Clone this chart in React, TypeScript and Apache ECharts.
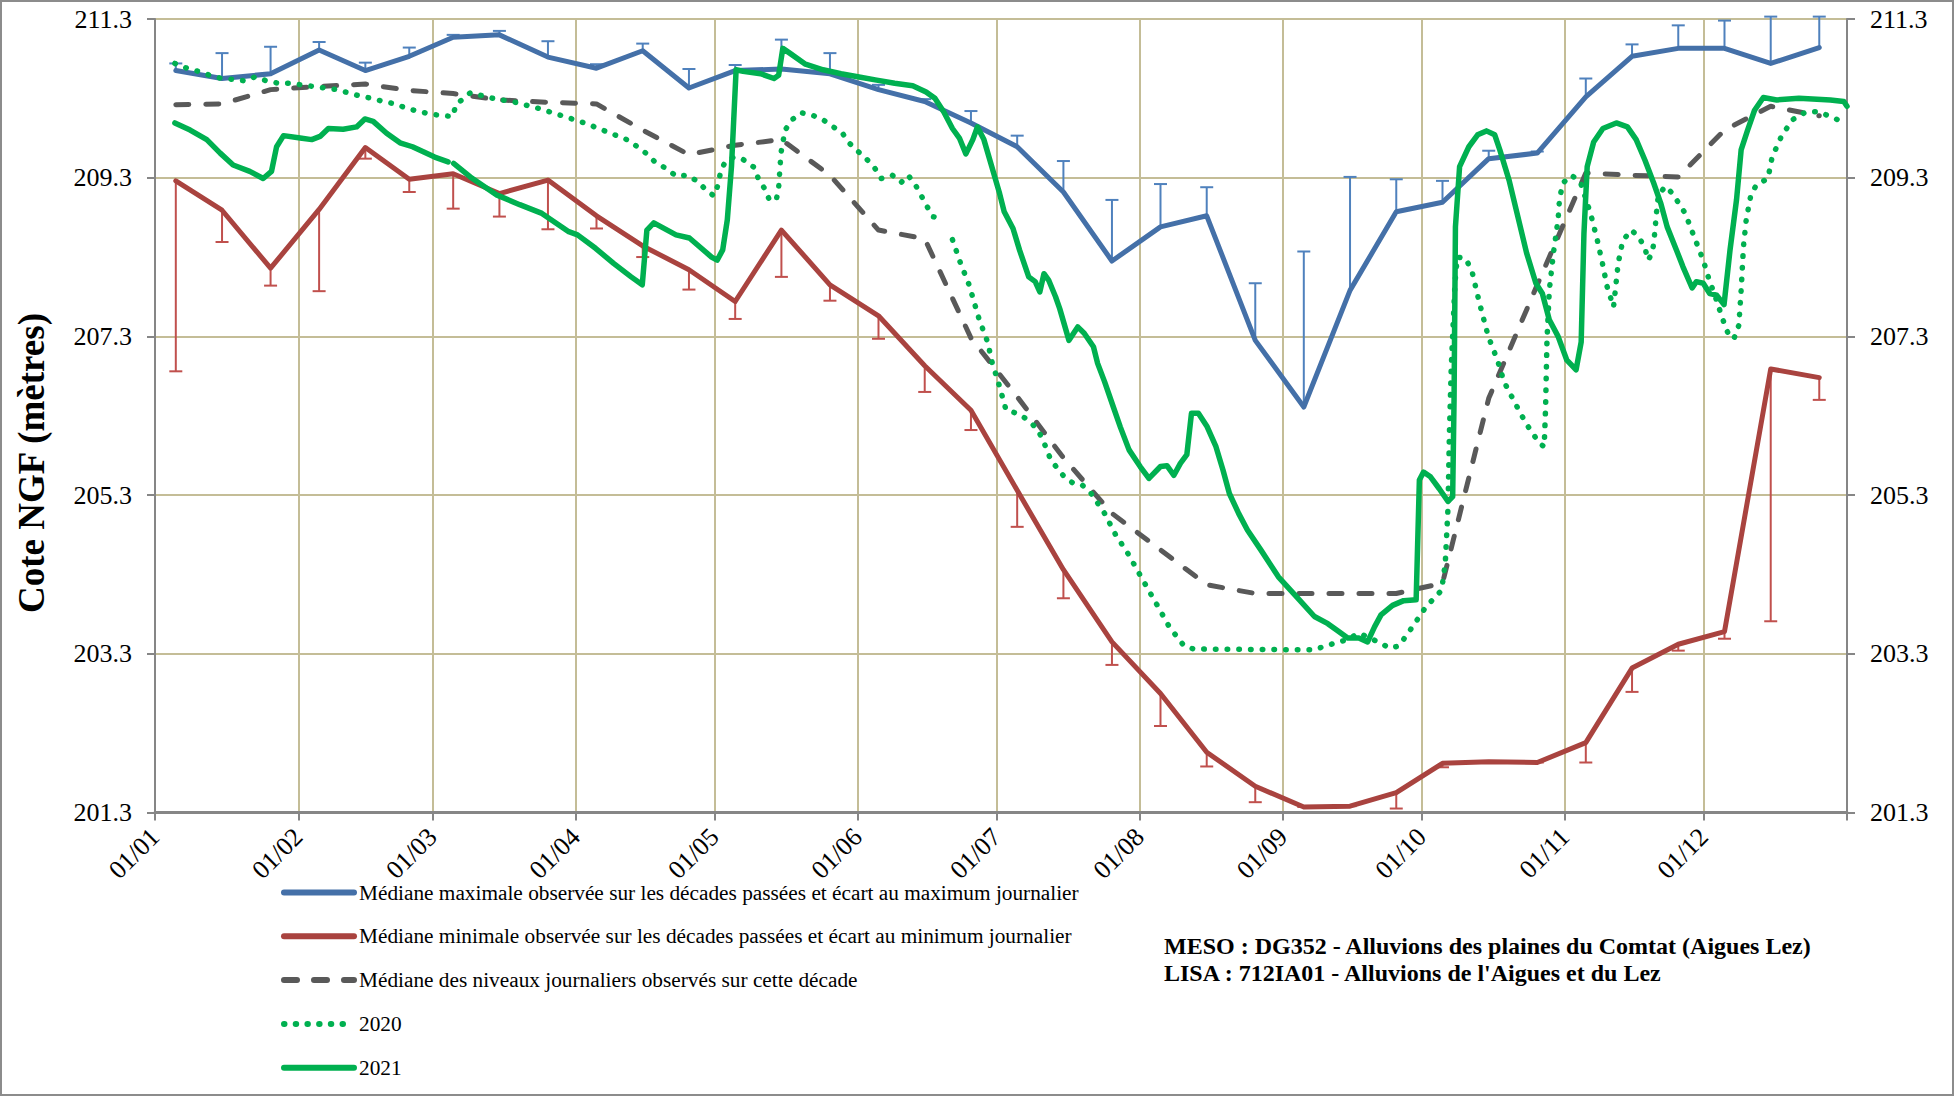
import React, { useEffect, useRef } from "react";
import * as echarts from "echarts";

// ---- calendar (leap year) ----
const MONTH_LENGTHS = [31, 29, 31, 30, 31, 30, 31, 31, 30, 31, 30, 31];
const MONTH_LABELS = ["01/01", "01/02", "01/03", "01/04", "01/05", "01/06", "01/07", "01/08", "01/09", "01/10", "01/11", "01/12"];
const Y_TICKS = [201.3, 203.3, 205.3, 207.3, 209.3, 211.3];

// ---- decade series (36 decades) ----
const MAX_MEDIAN = [210.65, 210.55, 210.61, 210.91, 210.65, 210.83, 211.07, 211.1, 210.82, 210.68, 210.9, 210.43,
  210.65, 210.67, 210.61, 210.41, 210.26, 209.99, 209.69, 209.12, 208.25, 208.68, 208.82, 207.25,
  206.41, 207.88, 208.87, 208.99, 209.54, 209.61, 210.32, 210.83, 210.93, 210.93, 210.74, 210.94];
const MAX_DAILY = [210.74, 210.87, 210.95, 211.01, 210.75, 210.94, 211.1, 211.15, 211.02, 210.73, 210.99, 210.67,
  210.72, 211.04, 210.87, 210.47, 210.29, 210.14, 209.83, 209.51, 209.02, 209.22, 209.18, 207.97,
  208.37, 209.31, 209.28, 209.26, 209.64, 209.63, 210.55, 210.98, 211.22, 211.28, 211.33, 211.33];
const MIN_MEDIAN = [209.26, 208.89, 208.16, 208.9, 209.68, 209.28, 209.35, 209.1, 209.27, 208.82, 208.44, 208.14,
  207.74, 208.64, 207.95, 207.56, 206.93, 206.37, 205.36, 204.36, 203.45, 202.8, 202.06, 201.63,
  201.37, 201.38, 201.55, 201.92, 201.94, 201.93, 202.18, 203.12, 203.42, 203.58, 206.89, 206.78];
const MIN_DAILY = [206.86, 208.49, 207.94, 207.87, 209.54, 209.12, 208.91, 208.81, 208.65, 208.66, 208.3, 207.89,
  207.52, 208.05, 207.75, 207.27, 206.6, 206.12, 204.9, 204.0, 203.16, 202.39, 201.88, 201.43,
  201.37, 201.38, 201.35, 201.87, 201.94, 201.93, 201.93, 202.82, 203.34, 203.49, 203.71, 206.5];
const DECADE_MEDIAN = [210.22, 210.23, 210.41, 210.45, 210.48, 210.4, 210.36, 210.28, 210.25, 210.23, 209.9, 209.59,
  209.71, 209.78, 209.33, 208.64, 208.53, 207.28, 206.54, 205.77, 205.07, 204.61, 204.17, 204.06,
  204.06, 204.06, 204.06, 204.19, 206.52, 207.95, 209.36, 209.33, 209.31, 209.9, 210.2, 210.08];

// ---- daily levels: [day of year, level] ----
const LEVELS_2020 = [
  [4.3, 210.74], [6.9, 210.68], [9.4, 210.64], [11.9, 210.59], [14.4, 210.55], [16.9, 210.54], [19.5, 210.52],
  [21.6, 210.57], [24.2, 210.52], [26.7, 210.49], [29.2, 210.49], [31.7, 210.47], [34.2, 210.45], [36.8, 210.43],
  [39.3, 210.41], [41.8, 210.37], [44.3, 210.33], [46.9, 210.3], [49.4, 210.26], [51.9, 210.23], [54.7, 210.17],
  [59.6, 210.1], [64.4, 210.07], [65.1, 210.22], [68.2, 210.37], [73.1, 210.3], [77.9, 210.25], [83.2, 210.17],
  [88.1, 210.08], [92.9, 209.99], [97.7, 209.88], [102.5, 209.77], [106.4, 209.6], [108.3, 209.49], [110.8, 209.41],
  [112.7, 209.32], [115.1, 209.33], [117.5, 209.25], [119.1, 209.15], [120.9, 209.07], [121.8, 209.21], [122.3, 209.36],
  [123.3, 209.5], [125.2, 209.56], [127.2, 209.53], [129.6, 209.43], [130.5, 209.29], [132, 209.15], [132.9, 209.02],
  [134.4, 209.02], [134.9, 209.17], [135.4, 209.61], [136.3, 209.9], [137.8, 210.03], [139.7, 210.12], [142.1, 210.09],
  [144.5, 210.03], [146.5, 209.95], [148.7, 209.86], [150.3, 209.73], [152.1, 209.63], [154, 209.53], [155.7, 209.42],
  [157.1, 209.29], [159.5, 209.33], [161.4, 209.24], [162.9, 209.33], [164.3, 209.23], [165.6, 209.09], [166.8, 208.96],
  [168.2, 208.81], [168.9, 208.8], [170.7, null], [172.5, 208.52], [174.2, 208.23], [176.1, 207.95], [178.3, 207.51],
  [180.1, 207.23], [181.2, 206.94], [182.2, 206.77], [184.1, 206.37], [186.5, 206.33], [188.8, 206.25], [190.7, 206.14],
  [191.9, 206.02], [193.8, 205.74], [196.7, 205.53], [198.6, 205.45], [200.5, 205.43], [202.5, 205.32], [205.4, 205.07],
  [207.8, 204.8], [210.4, 204.57], [213.1, 204.29], [217, 203.89], [219.4, 203.64], [222.6, 203.4], [224.7, 203.36],
  [250.8, 203.35], [253.2, 203.4], [258, 203.48], [260.4, 203.56], [262.8, 203.5], [267.2, 203.37], [269.1, 203.4],
  [272, 203.64], [274.9, 203.89], [278.3, 204.1], [279.1, 204.44], [279.7, 205.15], [280, 206.08], [280.4, 206.92],
  [281.2, 207.97], [281.7, 208.3], [283.6, 208.28], [285, 208.09], [286.5, 207.72], [288.4, 207.3], [290.4, 207.0],
  [291.8, 206.73], [294.2, 206.46], [296.6, 206.2], [299.5, 205.95], [300.5, 205.91], [300.8, 206.4], [301.1, 207.25],
  [301.6, 207.88], [302.5, 208.35], [303.5, 208.77], [303.8, 209.02], [304.5, 209.23], [306.4, 209.33], [308.3, 209.25],
  [309.8, 208.98], [310.7, 208.81], [312, 208.51], [313.1, 208.22], [314.1, 207.93], [315.5, 207.67], [316.5, 208.22],
  [317.5, 208.51], [319.4, 208.64], [321.1, 208.54], [322.3, 208.41], [323, 208.26], [323.8, 208.35], [324.2, 208.47],
  [324.9, 208.93], [325.2, 209.08], [326.7, 209.19], [328.1, 209.11], [329.6, 208.98], [331, 208.85], [332, 208.7],
  [332.9, 208.56], [333.9, 208.41], [334.9, 208.26], [336.3, 207.99], [337.3, 207.84], [338.7, 207.59], [339.7, 207.42],
  [340.7, 207.28], [341.6, 207.28], [342.6, 207.44], [343.1, 207.88], [343.6, 208.43], [344.2, 208.77], [345.2, 209.08],
  [346.4, 209.21], [348.9, 209.29], [349.8, 209.56], [351.8, 209.82], [354.2, 210.03], [357.1, 210.13], [360, 210.13],
  [362.4, 210.07], [364.8, 210.01],
];
const LEVELS_2021 = [
  [4.3, 209.99], [7.6, 209.9], [11.2, 209.78], [14.1, 209.61], [16.9, 209.46], [20.5, 209.38], [23.4, 209.29],
  [25.2, 209.38], [26.3, 209.69], [27.8, 209.83], [31.4, 209.8], [33.9, 209.78], [35.7, 209.82], [37.5, 209.92],
  [40.7, 209.91], [43.6, 209.94], [45.4, 210.04], [47.2, 210.01], [50.1, 209.86], [53, 209.74], [55.7, 209.69],
  [60.5, 209.56], [63.4, 209.5], [64, null], [64.6, 209.48], [68.2, 209.31], [74, 209.08], [78.9, 208.96],
  [83.7, 208.85], [89.5, 208.62], [91.4, 208.58], [95.3, 208.41], [99.2, 208.22], [103, 208.05], [105.4, 207.95],
  [106.4, 208.64], [107.9, 208.73], [112.7, 208.58], [115.6, 208.54], [120.4, 208.3], [121.6, 208.26], [122.8, 208.39],
  [123.8, 208.77], [124.7, 209.44], [125.7, 210.66], [127.2, 210.64], [131, 210.61], [133.9, 210.55], [134.9, 210.59],
  [135.8, 210.93], [137.3, 210.87], [140.7, 210.73], [144.5, 210.66], [148.4, 210.61], [152.3, 210.57], [156.1, 210.53],
  [160, 210.49], [163.9, 210.46], [166.8, 210.38], [168.7, 210.3], [170.6, 210.13], [172.5, 209.92], [174, 209.8],
  [175.4, 209.6], [176.9, 209.78], [177.9, 209.94], [179.3, 209.78], [181.2, 209.4], [182.7, 209.1], [183.7, 208.87],
  [185.6, 208.66], [187, 208.39], [189, 208.05], [190.4, 207.99], [191.4, 207.86], [192.3, 208.09], [193.3, 208.01],
  [194.8, 207.8], [195.7, 207.65], [197.7, 207.25], [199.6, 207.42], [201, 207.34], [203, 207.17], [203.9, 206.96],
  [205.4, 206.73], [207.3, 206.41], [208.8, 206.16], [210.7, 205.87], [213.1, 205.66], [215, 205.51], [217.5, 205.66],
  [218.9, 205.67], [220.4, 205.55], [221.8, 205.7], [223.2, 205.81], [224.2, 206.33], [225.7, 206.33], [227.6, 206.16],
  [229.5, 205.91], [231, 205.62], [232.4, 205.32], [234.4, 205.07], [236.3, 204.86], [239.2, 204.61], [243, 204.27],
  [246.9, 204.02], [250.8, 203.77], [253.7, 203.68], [255.6, 203.6], [258, 203.5], [260.4, 203.5], [262.3, 203.45],
  [263.8, 203.64], [265.2, 203.79], [267.7, 203.91], [270.1, 203.97], [272.8, 203.98], [273.5, 205.49], [274.4, 205.59],
  [275.9, 205.53], [277.8, 205.38], [279.7, 205.22], [280.7, 205.28], [281, 206.5], [281.3, 208.68], [282.2, 209.44],
  [284.2, 209.69], [286.1, 209.84], [288, 209.89], [289.8, 209.84], [290.9, 209.65], [292.9, 209.27], [294.8, 208.81],
  [296.7, 208.35], [298.7, 207.97], [300.1, 207.84], [301.6, 207.51], [303.5, 207.3], [305.4, 207.0], [307.4, 206.88],
  [308.5, 207.23], [309.1, 208.6], [309.8, 209.44], [311.2, 209.75], [313.2, 209.92], [316.1, 209.99], [318.5, 209.94],
  [320.4, 209.78], [322.3, 209.52], [324.2, 209.23], [325.7, 208.98], [327.1, 208.68], [329.1, 208.39], [330.5, 208.18],
  [332.5, 207.91], [333.4, 207.99], [334.9, 207.97], [336.3, 207.84], [337.8, 207.82], [339.4, 207.7], [340.7, 208.39],
  [342.1, 209.02], [343.1, 209.65], [344.5, 209.9], [346, 210.15], [347.9, 210.31], [350.8, 210.28], [355.6, 210.3],
  [359.5, 210.29], [362.4, 210.28], [365.3, 210.26], [366, 210.2],
];

const SERIES_NAMES = [
  "Médiane maximale observée sur les décades passées et écart au maximum journalier",
  "Médiane minimale observée sur les décades passées et écart au minimum journalier",
  "Médiane des niveaux journaliers observés sur cette décade",
  "2020",
  "2021",
];
const INFO_LINES = [
  "MESO : DG352 - Alluvions des plaines du Comtat (Aigues Lez)",
  "LISA : 712IA01 - Alluvions de l'Aigues et du Lez",
];
const Y_NAME = "Cote NGF (mètres)";

// ---- derived calendar positions ----
const MONTH_STARTS: number[] = [0];
MONTH_LENGTHS.forEach((l, i) => MONTH_STARTS.push(MONTH_STARTS[i] + l));
const DECADE_DAYS: number[] = [];
MONTH_LENGTHS.forEach((l, i) => {
  const s = MONTH_STARTS[i];
  DECADE_DAYS.push(s + 4.5, s + 14.5, s + 20 + (l - 20) / 2 - 0.5);
});

const FONT = "Liberation Serif";
const GRID_COLOR = "#C4BD97";
const AXIS_COLOR = "#868686";
const BLUE = "#4470A8";
const RED = "#A9433F";
const GRAY = "#595959";
const GREEN = "#00B050";

function errorBar(color: string) {
  return (_params: any, api: any) => {
    const x = api.value(0);
    const p0 = api.coord([x, api.value(1)]);
    const p1 = api.coord([x, api.value(2)]);
    const style = { stroke: color, lineWidth: 2 };
    return {
      type: "group",
      children: [
        { type: "line", shape: { x1: p0[0], y1: p0[1], x2: p1[0], y2: p1[1] }, style },
        { type: "line", shape: { x1: p1[0] - 6.5, y1: p1[1], x2: p1[0] + 6.5, y2: p1[1] }, style },
      ],
    };
  };
}

function yAxis(position: "left" | "right", split: boolean) {
  return {
    type: "value",
    min: 201.3,
    max: 211.3,
    position,
    axisLine: { show: true, lineStyle: { color: AXIS_COLOR, width: 2 } },
    axisTick: { show: true, customValues: Y_TICKS, length: 8, lineStyle: { color: AXIS_COLOR, width: 2 } },
    axisLabel: {
      customValues: Y_TICKS,
      formatter: (v: number) => v.toFixed(1),
      margin: 23,
      fontFamily: FONT,
      fontSize: 26,
      color: "#000",
    },
    splitLine: { show: split, lineStyle: { color: GRID_COLOR, width: 2 } },
  };
}

export default function App() {
  const ref = useRef<HTMLDivElement>(null);
  useEffect(() => {
    if (!ref.current) return;
    const chart = echarts.init(ref.current, null, { renderer: "svg" });
    const option: any = {
      animation: false,
      backgroundColor: "#fff",
      grid: { left: 155, right: 107, top: 19, bottom: 283.5, outerBoundsMode: "none", containLabel: false },
      title: {
        text: INFO_LINES.join("\n"),
        left: 1164,
        top: 932,
        padding: 0,
        textStyle: { fontFamily: FONT, fontSize: 24, fontWeight: "bold", lineHeight: 27, color: "#000" },
      },
      legend: {
        orient: "vertical",
        left: 281,
        top: 882,
        itemWidth: 70,
        itemHeight: 20,
        itemGap: 22.8,
        padding: 0,
        selectedMode: false,
        data: SERIES_NAMES,
        textStyle: { fontFamily: FONT, fontSize: 21.3, color: "#000" },
        itemStyle: { opacity: 0 },
        lineStyle: { width: 6 },
      },
      graphic: [
        {
          type: "rect",
          silent: true,
          shape: { x: 1, y: 1, width: 1952, height: 1094 },
          style: { fill: "none", stroke: "#8C8C8C", lineWidth: 2 },
        },
        {
          type: "text",
          x: 31,
          y: 463,
          rotation: Math.PI / 2,
          style: {
            text: Y_NAME,
            fontFamily: FONT,
            fontSize: 37,
            fontWeight: "bold",
            fill: "#000",
            align: "center",
            verticalAlign: "middle",
          },
        },
      ],
      xAxis: {
        type: "value",
        min: 0,
        max: MONTH_STARTS[12],
        axisLine: { show: true, lineStyle: { color: AXIS_COLOR, width: 3 } },
        axisTick: { show: true, customValues: MONTH_STARTS, length: 8, lineStyle: { color: AXIS_COLOR, width: 2 } },
        axisLabel: {
          customValues: MONTH_STARTS.slice(0, 12),
          formatter: (v: number) => MONTH_LABELS[MONTH_STARTS.indexOf(Math.round(v))] ?? "",
          rotate: 45,
          margin: 20,
          fontFamily: FONT,
          fontSize: 26,
          color: "#000",
        },
        splitLine: { show: true, lineStyle: { color: GRID_COLOR, width: 2 } },
      },
      yAxis: [yAxis("left", true), yAxis("right", false)],
      series: [
        {
          type: "custom",
          name: "errMax",
          silent: true,
          clip: false,
          renderItem: errorBar("#4F81BD"),
          encode: { x: 0, y: [1, 2] },
          data: DECADE_DAYS.map((d, i) => [d, MAX_MEDIAN[i], MAX_DAILY[i]]),
          z: 1,
        },
        {
          type: "custom",
          name: "errMin",
          silent: true,
          clip: false,
          renderItem: errorBar("#C0504D"),
          encode: { x: 0, y: [1, 2] },
          data: DECADE_DAYS.map((d, i) => [d, MIN_MEDIAN[i], MIN_DAILY[i]]),
          z: 1,
        },
        {
          type: "line",
          name: SERIES_NAMES[0],
          symbol: "none",
          showSymbol: false,
          data: DECADE_DAYS.map((d, i) => [d, MAX_MEDIAN[i]]),
          lineStyle: { color: BLUE, width: 5, join: "round", cap: "round" },
          itemStyle: { color: BLUE },
          z: 2,
        },
        {
          type: "line",
          name: SERIES_NAMES[1],
          symbol: "none",
          showSymbol: false,
          data: DECADE_DAYS.map((d, i) => [d, MIN_MEDIAN[i]]),
          lineStyle: { color: RED, width: 5, join: "round", cap: "round" },
          itemStyle: { color: RED },
          z: 2,
        },
        {
          type: "line",
          name: SERIES_NAMES[2],
          symbol: "none",
          showSymbol: false,
          data: DECADE_DAYS.map((d, i) => [d, DECADE_MEDIAN[i]]),
          lineStyle: { color: GRAY, width: 5, type: [13, 17], cap: "round", join: "round" },
          itemStyle: { color: GRAY },
          z: 3,
        },
        {
          type: "line",
          name: SERIES_NAMES[3],
          symbol: "none",
          showSymbol: false,
          connectNulls: false,
          data: LEVELS_2020,
          lineStyle: { color: GREEN, width: 5.5, type: [0.5, 11.2], cap: "round", join: "round" },
          itemStyle: { color: GREEN },
          z: 4,
        },
        {
          type: "line",
          name: SERIES_NAMES[4],
          symbol: "none",
          showSymbol: false,
          connectNulls: false,
          data: LEVELS_2021,
          lineStyle: { color: GREEN, width: 5.5, cap: "round", join: "round" },
          itemStyle: { color: GREEN },
          z: 5,
        },
      ],
    };
    chart.setOption(option);
    return () => chart.dispose();
  }, []);
  return (
    <div
      ref={ref}
      style={{ position: "absolute", left: 0, top: 0, width: 1954, height: 1096, background: "#fff" }}
    />
  );
}
